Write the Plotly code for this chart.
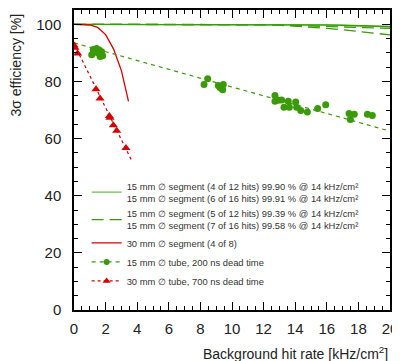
import plotly.graph_objects as go

# ---------------- data ----------------
seg_x = [0, 2, 4, 6, 8, 10, 12, 13, 14, 15, 16, 17, 18, 19, 20]
seg_4of12 = [100, 100, 100, 100, 100, 100, 99.98, 99.95, 99.90, 99.83, 99.74, 99.62, 99.48, 99.30, 99.10]
seg_6of16 = [100, 100, 100, 100, 100, 100, 99.98, 99.96, 99.91, 99.85, 99.77, 99.67, 99.55, 99.40, 99.22]
seg_5of12 = [100, 100, 100, 100, 100, 99.99, 99.88, 99.68, 99.39, 99.02, 98.58, 98.07, 97.50, 96.90, 96.30]
seg_7of16 = [100, 100, 100, 100, 100, 100, 99.93, 99.80, 99.58, 99.40, 99.20, 99.00, 98.85, 98.70, 98.55]

seg30_x = [0, 0.5, 1.0, 1.5, 2.0, 2.5, 3.0, 3.45]
seg30_4of8 = [100, 99.95, 99.75, 98.9, 96.4, 91.4, 83.8, 73.0]

tube15_x = [1.12, 1.22, 1.43, 1.60, 1.75, 1.65, 1.81, 1.50,
            8.23, 8.46, 9.13, 9.24, 9.35, 9.45, 9.41,
            12.72, 12.72, 12.93, 13.14, 13.29, 13.56, 13.63, 14.03, 14.09,
            14.35, 14.77, 15.42, 15.93, 17.41, 17.49, 17.74, 18.57, 18.88]
tube15_eff = [89.3, 91.2, 91.5, 91.0, 90.4, 88.7, 89.0, 90.0,
              78.9, 80.9, 78.6, 77.9, 77.5, 78.9, 77.1,
              75.1, 73.1, 73.4, 73.5, 71.0, 73.1, 71.0, 72.8, 71.0,
              69.8, 69.3, 70.5, 71.8, 68.8, 66.7, 68.5, 68.5, 68.1]
tube15_fit_x = [0, 20]
tube15_fit = [93.5, 62.6]

tube30_x = [0.0, 0.06, 0.23, 1.39, 1.65, 2.24, 2.28, 2.49, 2.70, 3.29]
tube30_eff = [92.7, 91.8, 89.8, 77.3, 74.0, 67.9, 67.3, 64.7, 62.7, 56.7]
tube30_fit_x = [0, 3.65]
tube30_fit = [93.2, 52.3]

x_ticks = [0, 2, 4, 6, 8, 10, 12, 14, 16, 18, 20]
y_ticks = [0, 20, 40, 60, 80, 100]

GREEN = "#3a9a0a"
GREEN_L = "#6cbf4c"
RED = "#d40000"
D = "\u2205"
sq = "\u00b2"

fig = go.Figure()

fig.add_trace(go.Scatter(x=seg_x, y=seg_4of12, mode="lines",
                         line=dict(color=GREEN_L, width=1.3),
                         name=f"15 mm {D} segment (4 of 12 hits) 99.90 % @ 14 kHz/cm{sq}<br>"
                              f"15 mm {D} segment (6 of 16 hits) 99.91 % @ 14 kHz/cm{sq}"))
fig.add_trace(go.Scatter(x=seg_x, y=seg_6of16, mode="lines",
                         line=dict(color=GREEN, width=1.3), showlegend=False))
fig.add_trace(go.Scatter(x=seg_x, y=seg_5of12, mode="lines",
                         line=dict(color=GREEN, width=1.3, dash="12px,6px"),
                         name=f"15 mm {D} segment (5 of 12 hits) 99.39 % @ 14 kHz/cm{sq}<br>"
                              f"15 mm {D} segment (7 of 16 hits) 99.58 % @ 14 kHz/cm{sq}"))
fig.add_trace(go.Scatter(x=seg_x, y=seg_7of16, mode="lines",
                         line=dict(color=GREEN, width=1.3, dash="12px,6px"), showlegend=False))
fig.add_trace(go.Scatter(x=seg30_x, y=seg30_4of8, mode="lines",
                         line=dict(color=RED, width=1.3),
                         name=f"30 mm {D} segment (4 of 8)"))

# tube fits + points
fig.add_trace(go.Scatter(x=tube15_fit_x, y=tube15_fit, mode="lines",
                         line=dict(color=GREEN, width=1.2, dash="4px,4px"), showlegend=False))
fig.add_trace(go.Scatter(x=tube15_x, y=tube15_eff, mode="markers",
                         marker=dict(color=GREEN, size=7, symbol="circle"), showlegend=False))
fig.add_trace(go.Scatter(x=[None], y=[None], mode="lines+markers",
                         line=dict(color=GREEN, width=1.2, dash="4px,4px"),
                         marker=dict(color=GREEN, size=6, symbol="circle"),
                         name=f"15 mm {D} tube, 200 ns dead time"))
fig.add_trace(go.Scatter(x=tube30_fit_x, y=tube30_fit, mode="lines",
                         line=dict(color=RED, width=1.2, dash="3px,3px"), showlegend=False))
fig.add_trace(go.Scatter(x=tube30_x, y=tube30_eff, mode="markers",
                         marker=dict(color=RED, size=8, symbol="triangle-up"), showlegend=False))
fig.add_trace(go.Scatter(x=[None], y=[None], mode="lines+markers",
                         line=dict(color=RED, width=1.2, dash="3px,3px"),
                         marker=dict(color=RED, size=7, symbol="triangle-up"),
                         name=f"30 mm {D} tube, 700 ns dead time"))

axis_common = dict(showline=True, linecolor="black", linewidth=1.5, mirror="ticks",
                   ticks="inside", tickcolor="black", tickwidth=1, ticklen=8,
                   showgrid=False, zeroline=False,
                   tickfont=dict(family="Liberation Sans, Arial", size=15, color="#222"))

fig.update_xaxes(range=[0, 20], tickvals=x_ticks, ticktext=[str(v) for v in x_ticks],
                 minor=dict(dtick=0.5, ticks="inside", ticklen=4, tickcolor="black", tickwidth=1),
                 ticklabelstandoff=4, **axis_common)
fig.update_yaxes(range=[0, 105], tickvals=y_ticks, ticktext=[str(v) for v in y_ticks],
                 minor=dict(dtick=5, ticks="inside", ticklen=4, tickcolor="black", tickwidth=1),
                 ticklabelstandoff=8, **axis_common)

# page body has an 8px default margin, so the figure is sized to fit the 400x361 window
fig.update_layout(
    width=392, height=353,
    margin=dict(l=66, r=10, t=0, b=50.5),
    paper_bgcolor="white", plot_bgcolor="white",
    font=dict(family="Liberation Sans, Arial", color="#222"),
    showlegend=True,
    legend=dict(x=0.04, y=0.455, xanchor="left", yanchor="top",
                bgcolor="rgba(0,0,0,0)", borderwidth=0,
                font=dict(size=9.4, color="#333"), itemwidth=30, tracegroupgap=0),
    annotations=[
        dict(text="Background hit rate [kHz/cm<sup>2</sup>]", xref="paper", yref="paper",
             x=1.0, y=-0.108, xanchor="right", yanchor="top", showarrow=False,
             font=dict(size=14, color="#222")),
        dict(text="3\u03c3 efficiency [%]", xref="paper", yref="paper",
             x=-0.182, y=0.995, xanchor="center", yanchor="top", textangle=-90, showarrow=False,
             font=dict(size=14, color="#222")),
    ],
)

fig.write_html("out.html")
